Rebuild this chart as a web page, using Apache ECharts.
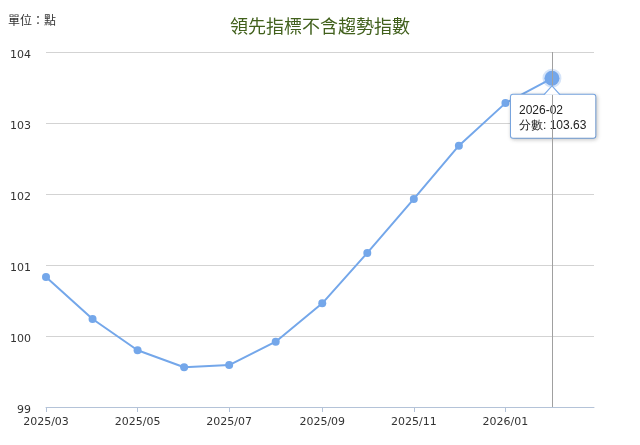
<!DOCTYPE html>
<html><head><meta charset="utf-8">
<script src="https://cdn.jsdelivr.net/npm/echarts@6/dist/echarts.min.js"></script>
<style>html,body{margin:0;padding:0;background:#fff}#c{width:640px;height:445px}</style>
</head><body><div id="c"></div>
<script>
const months = ['2025-03','2025-04','2025-05','2025-06','2025-07','2025-08','2025-09','2025-10','2025-11','2025-12','2026-01','2026-02'];
const values = [100.83,100.24,99.80,99.56,99.59,99.92,100.46,101.17,101.93,102.68,103.28,103.63];
const xTickLabels = ['2025/03','2025/05','2025/07','2025/09','2025/11','2026/01'];
const xMin = '2025-03', xMax = '2026-03';
const yTicks = [99,100,101,102,103,104];
const titleText = '領先指標不含趨勢指數';
const unitText = '單位：點';
const seriesName = '分數';

// x position = days since xMin (a linear date scale)
const day = m => Math.round((Date.UTC(+m.slice(0, 4), +m.slice(5, 7) - 1, 1) - Date.UTC(+xMin.slice(0, 4), +xMin.slice(5, 7) - 1, 1)) / 86400000);
const tickValues = xTickLabels.map(l => day(l.replace('/', '-')));
const lastIdx = values.length - 1;
const blue = '#74a7ea';
const data = values.map((v, i) => {
  const item = { value: [day(months[i]), v] };
  if (i !== lastIdx) return item;
  item.symbolSize = 15;
  item.itemStyle = { color: blue, borderColor: 'rgba(116,167,234,0.3)', borderWidth: 4 };
  item.label = {
    show: true,
    position: 'bottom',
    distance: 7,
    align: 'left',
    offset: [-41, 0],
    formatter: () => months[lastIdx] + '\n' + seriesName + ': ' + v.toFixed(2),
    color: '#222',
    fontSize: 12,
    lineHeight: 15,
    fontFamily: 'Liberation Sans',
    backgroundColor: '#fff',
    borderColor: '#7aaae8',
    borderWidth: 1,
    borderRadius: 2,
    padding: [8, 9, 5, 8],
    shadowColor: 'rgba(0,0,0,0.2)',
    shadowBlur: 4,
    shadowOffsetX: 1,
    shadowOffsetY: 1
  };
  return item;
});

const chart = echarts.init(document.getElementById('c'));
chart.setOption({
  animation: false,
  title: {
    text: titleText, left: 'center', top: 12,
    textStyle: { color: '#41601c', fontSize: 18, fontWeight: 'normal', fontFamily: 'Noto Sans CJK TC' }
  },
  graphic: [{ type: 'text', left: 8, top: 14, style: { text: unitText, fill: '#333', fontSize: 12, fontFamily: 'Noto Sans CJK TC' } }],
  grid: { left: 46, right: 46, top: 52, bottom: 38, containLabel: false },
  xAxis: {
    type: 'value', min: 0, max: day(xMax),
    axisLine: { show: true, onZero: false, lineStyle: { color: '#b4c3d8' } },
    axisTick: { show: true, customValues: tickValues, length: 5, lineStyle: { color: '#b4c3d8' } },
    axisLabel: {
      customValues: tickValues,
      formatter: val => { const k = tickValues.indexOf(val); return k >= 0 ? xTickLabels[k] : ''; },
      color: '#333', fontSize: 11, margin: 10, fontFamily: 'DejaVu Sans'
    },
    splitLine: { show: false }
  },
  yAxis: {
    type: 'value', min: yTicks[0], max: yTicks[yTicks.length - 1], interval: 1,
    axisLine: { show: false }, axisTick: { show: false },
    axisLabel: { align: 'right', verticalAlign: 'top', margin: 15, color: '#333', fontSize: 11, lineHeight: 12, fontFamily: 'DejaVu Sans', padding: [-3, 0, 0, 0] },
    splitLine: { lineStyle: { color: '#d3d3d3' } }
  },
  series: [{
    name: seriesName, type: 'line', data: data,
    symbol: 'circle', symbolSize: 8,
    itemStyle: { color: blue },
    lineStyle: { color: blue, width: 2 },
    markLine: {
      silent: true, symbol: 'none', label: { show: false },
      lineStyle: { color: '#a0a0a0', width: 1, type: 'solid' },
      data: [{ xAxis: day(months[lastIdx]) }]
    },
    markPoint: {
      silent: true, z: 10,
      symbol: 'path://M0,9 L8,0 L16,9', symbolSize: [16, 9], symbolOffset: [0, 12],
      itemStyle: { color: '#fff', borderColor: '#7aaae8', borderWidth: 1 },
      label: { show: false },
      data: [{ coord: [day(months[lastIdx]), values[lastIdx]] }]
    }
  }]
});
</script></body></html>
